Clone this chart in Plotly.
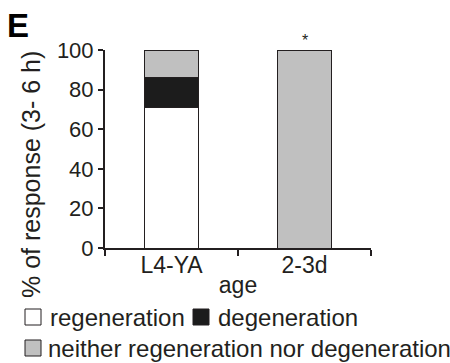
import plotly.graph_objects as go

categories = ["L4-YA", "2-3d"]
regeneration = [71, 0]
degeneration = [15, 0]
neither = [14, 100]
series_names = ["regeneration", "degeneration", "neither regeneration nor degeneration"]
series_colors = ["#ffffff", "#1c1c1c", "#c0c0c0"]
y_ticks = [0, 20, 40, 60, 80, 100]

FONT = "Liberation Sans, Arial, sans-serif"
INK = "#231f20"

W, H = 450, 363
L, R, T, B = 105, 79, 50, 115
PW, PH = W - L - R, H - T - B


def px(x):
    return (x - L) / PW


def py(y):
    return (H - B - y) / PH


fig = go.Figure()
for vals, name, col in zip([regeneration, degeneration, neither], series_names, series_colors):
    fig.add_trace(go.Bar(
        x=categories, y=vals, name=name, width=0.4, showlegend=False,
        marker=dict(color=col, line=dict(color=INK, width=1)),
    ))

# significance star
fig.add_annotation(x=categories[1], y=neither[1], text="*", showarrow=False,
                   yanchor="bottom", yshift=-1, font=dict(size=16, color=INK, family=FONT))
# panel letter
fig.add_annotation(xref="paper", yref="paper", x=px(5), y=py(5), xanchor="left", yanchor="top",
                   text="<b>E</b>", showarrow=False, font=dict(size=33, color="#000000", family=FONT))
# y-axis title
fig.add_annotation(xref="paper", yref="paper", x=px(31), y=py(175), xanchor="center", yanchor="middle",
                   text="% of response (3- 6 h)", textangle=-90, showarrow=False,
                   font=dict(size=25, color=INK, family=FONT))

# manual legend
legend_pos = [(25, 317, 50), (193, 317, 218), (25, 348, 48)]
for (sx, cy, tx), name, col in zip(legend_pos, series_names, series_colors):
    fig.add_shape(type="rect", xref="paper", yref="paper",
                  x0=px(sx), x1=px(sx + 16), y0=py(cy + 8), y1=py(cy - 8),
                  fillcolor=col, line=dict(color=INK, width=1))
    fig.add_annotation(xref="paper", yref="paper", x=px(tx - 2), y=py(cy), xanchor="left", yanchor="middle",
                       text=name, showarrow=False, font=dict(size=24, color=INK, family=FONT))

fig.update_layout(
    width=W, height=H,
    margin=dict(l=L, r=R, t=T, b=B),
    barmode="stack",
    plot_bgcolor="white", paper_bgcolor="white",
    font=dict(family=FONT, color=INK, size=22),
    showlegend=False,
    xaxis=dict(range=[-0.5, 1.5], tickson="boundaries", ticks="outside", ticklen=6, tickwidth=2,
               tickcolor=INK, showline=True, linewidth=2, linecolor=INK, showgrid=False,
               ticklabelstandoff=-5,
               tickfont=dict(size=23), title=dict(text="age", font=dict(size=23), standoff=0)),
    yaxis=dict(range=[0, 100], tickvals=y_ticks, ticks="outside", ticklen=5, tickwidth=2,
               tickcolor=INK, showline=True, linewidth=2, linecolor=INK, showgrid=False,
               zeroline=False, tickfont=dict(size=22)),
)

fig.write_html("out.html")
